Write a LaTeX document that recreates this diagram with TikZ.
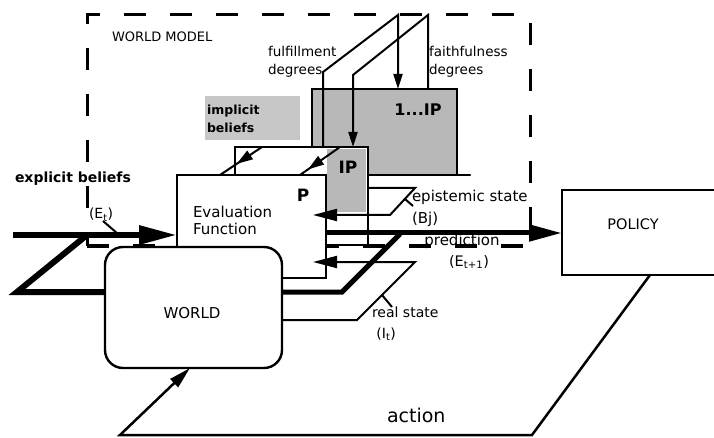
\documentclass[tikz,border=0pt]{standalone}
\usepackage{fontspec}
\setmainfont{DejaVu Sans}
\usetikzlibrary{arrows.meta,decorations.markings}
\newcommand{\fsz}[2]{\fontsize{#1}{#2}\selectfont}
\begin{document}
\begin{tikzpicture}[x=1pt,y=-1pt,
  boxst/.style={draw,line width=2.4pt,fill=white,inner sep=0pt,outer sep=0pt},
  shadest/.style={draw=none,inner sep=0pt,outer sep=0pt},
  thinln/.style={line width=2pt},
  thickln/.style={line width=6pt},
  lbl/.style={inner sep=0pt,outer sep=0pt,align=left,font=\fsz{13.5}{18}},
  midarrow/.style={postaction={decorate},decoration={markings,mark=at position #1 with {\arrow{Triangle[length=16pt,width=10pt]}}}},
  tipS/.style={-{Triangle[length=15pt,width=9pt]}},
  tipM/.style={-{Triangle[length=24pt,width=12pt]}},
]
\useasboundingbox (0,0) rectangle (714,438);
\clip (0,0) rectangle (714,438);

% world model dashed frame
\node[draw,line width=3pt,dash pattern=on 22pt off 24pt,inner sep=0pt,outer sep=0pt,
      minimum width=443pt,minimum height=231pt] (wm) at (308.5,130.5) {};
\node[lbl,anchor=west,font=\fsz{13}{16}] (wmlbl) at (112,37) {WORLD MODEL};

% implicit beliefs stipple
\node[shadest,fill=black!22,minimum width=95pt,minimum height=44pt] (implbg) at (252.5,118) {};
\node[lbl,anchor=base west,font=\bfseries\fsz{12.5}{18}] (impl) at (207,133) {implicit\\beliefs};

% back box 1..IP
\node[boxst,fill=black!28,minimum width=145pt,minimum height=86pt] (allbox) at (384.5,132) {};
\draw[line width=2.4pt,line cap=round] (allbox.south east) -- ++(13,0) coordinate (allext);
\node[lbl,font=\bfseries\fsz{16}{16}] (alllbl) at (418,110) {1...IP};

% middle box IP
\node[boxst,minimum width=133pt,minimum height=98pt] (ipbox) at (301.5,196) {};
\node[shadest,fill=black!28,minimum width=39pt,minimum height=63pt] (ipshade) at (346.5,180.5) {};
\node[lbl,font=\bfseries\fsz{17}{17}] (iplbl) at (348,167) {IP};

% front box P / Evaluation Function
\node[boxst,minimum width=149pt,minimum height=103pt] (evalbox) at (251.5,226.5) {};
\node[lbl,font=\bfseries\fsz{17}{17}] (plbl) at (303,195) {P};
\node[lbl,anchor=base west,font=\fsz{15}{17}] (evallbl) at (193,234) {Evaluation\\Function};

% WORLD and POLICY
\node[boxst,rounded corners=18pt,minimum width=177pt,minimum height=121pt] (world) at (193.5,307.5) {};
\node[lbl,font=\fsz{15}{15}] (worldlbl) at (192,313) {WORLD};
\node[boxst,minimum width=178pt,minimum height=85pt] (policy) at (651,232.5) {};
\node[lbl,font=\fsz{14.5}{15}] (policylbl) at (633,224) {POLICY};

% fulfillment / faithfulness degrees
\coordinate (fulA) at (323,72);
\coordinate (fulB) at (398,15);
\coordinate (faiA) at (353,75);
\coordinate (faiB) at (428,15);
\draw[thinln,tipS] (fulA |- ipbox.north) -- (fulA) -- (fulB) -- (fulB |- allbox.north);
\draw[thinln,tipS] (faiB |- allbox.north) -- (faiB) -- (faiA) -- (faiA |- ipbox.north);
\node[lbl,anchor=base west] (fullbl) at (268,75) {fulfillment\\degrees};
\node[lbl,anchor=base west] (failbl) at (429,75) {faithfulness\\degrees};

% diagonal arrows from IP box to P box
\coordinate (d1t) at (262,0);
\coordinate (d1b) at (220,0);
\coordinate (d2t) at (340,0);
\coordinate (d2b) at (300,0);
\draw[thinln,midarrow=0.6] (d1t |- ipbox.north) -- (d1b |- evalbox.north);
\draw[thinln,midarrow=0.8] (d2t |- ipbox.north) -- (d2b |- evalbox.north);

% explicit beliefs
\coordinate (ebS) at (13,235);
\coordinate (ebK) at (87,235);
\coordinate (ebL) at (17,292);
\draw[thickln,-{Triangle[length=38pt,width=18pt]}] (ebS) -- (ebS -| evalbox.west);
\draw[thickln] (world.west |- ebL) -- (ebL) -- (ebK);
\node[lbl,anchor=base west,font=\bfseries\fsz{14}{16}] (eblbl) at (15,183) {explicit beliefs};
\node[lbl,anchor=base west,font=\fsz{14}{16}] (etlbl) at (89,219) {(E\textsubscript{t})};
\coordinate (etA) at (103,221);
\coordinate (etB) at (118,234);
\draw[thinln] (etA) -- (etB);

% prediction
\coordinate (prY) at (330,233);
\draw[line width=5pt,-{Triangle[length=33pt,width=16pt]}] (prY -| evalbox.east) -- (prY -| policy.west);
\node[lbl,anchor=base,font=\fsz{15}{16}] (prlbl) at (462,246) {prediction};
\node[lbl,anchor=base,font=\fsz{14.5}{16}] (et1lbl) at (469,266) {(E\textsubscript{t+1})};

% thick line out of WORLD
\coordinate (wo1) at (342,292);
\coordinate (wo2) at (400,234);
\draw[line width=5pt] (world.east |- wo1) -- (wo1) -- (wo2);

% epistemic state
\coordinate (ep1) at (415,188);
\coordinate (ep2) at (390,215);
\coordinate (epT) at (313,215);
\draw[thinln,tipM] (ipbox.east |- ep1) -- (ep1) -- (ep2) -- (epT);
\coordinate (epA) at (405,199);
\coordinate (epB) at (413,206);
\draw[thinln] (epA) -- (epB);
\node[lbl,anchor=base west,font=\fsz{15}{22}] (eplbl) at (412,224) {epistemic state\\(Bj)};

% real state
\coordinate (rs0) at (357,320);
\coordinate (rs1) at (415,262);
\coordinate (rsT) at (313,262);
\draw[thinln,tipM] (world.east |- rs0) -- (rs0) -- (rs1) -- (rsT);
\coordinate (rtA) at (382,295);
\coordinate (rtB) at (392,307);
\draw[thinln] (rtA) -- (rtB);
\node[lbl,anchor=base west,font=\fsz{14}{21}] (rslbl) at (372,338) {real state\\\ (I\textsubscript{t})};

% action loop
\coordinate (acX) at (650,0);
\coordinate (ac1) at (532,435);
\coordinate (ac2) at (120,435);
\coordinate (acW) at (190,0);
\draw[line width=2.5pt,-{Triangle[length=22pt,width=11pt]}] (policy.south -| acX) -- (ac1) -- (ac2) -- (world.south -| acW);
\node[lbl,anchor=base west,font=\fsz{19}{19}] (aclbl) at (387,422) {action};
\end{tikzpicture}
\end{document}
